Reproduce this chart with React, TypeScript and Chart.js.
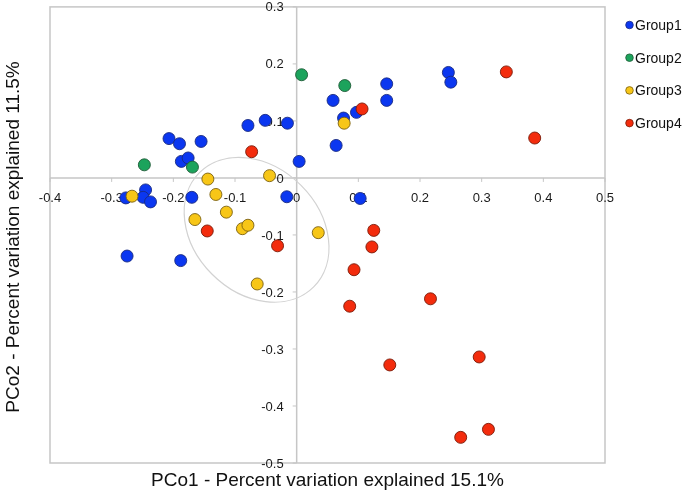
import React, { useEffect, useRef } from "react";
import { Chart, registerables } from "chart.js";

Chart.register(...registerables);

// ---- data ----
const groupNames = ["Group1", "Group2", "Group3", "Group4"];

const group1X = [-0.051, -0.015, -0.079, -0.207, -0.19, -0.155, -0.187, -0.176, 0.004, -0.245, -0.277, -0.249, -0.237, -0.17, -0.016, -0.275, -0.188, 0.059, 0.146, 0.146, 0.246, 0.25, 0.076, 0.097, 0.064, 0.103];
const group1Y = [0.101, 0.096, 0.092, 0.069, 0.06, 0.064, 0.029, 0.035, 0.029, -0.021, -0.035, -0.034, -0.042, -0.034, -0.033, -0.137, -0.145, 0.136, 0.165, 0.136, 0.185, 0.168, 0.105, 0.115, 0.057, -0.036];

const group2X = [0.008, -0.169, -0.247, 0.078];
const group2Y = [0.181, 0.019, 0.023, 0.162];

const group3X = [-0.144, -0.044, -0.267, -0.131, -0.114, -0.165, -0.088, -0.079, 0.035, -0.064, 0.077];
const group3Y = [-0.002, 0.004, -0.032, -0.029, -0.06, -0.073, -0.089, -0.083, -0.096, -0.186, 0.096];

const group4X = [-0.073, -0.145, -0.031, 0.34, 0.386, 0.106, 0.125, 0.122, 0.093, 0.086, 0.217, 0.296, 0.151, 0.311, 0.266];
const group4Y = [0.046, -0.093, -0.119, 0.186, 0.07, 0.121, -0.092, -0.121, -0.161, -0.225, -0.212, -0.314, -0.328, -0.441, -0.455];

const xTickValues = [-0.4, -0.3, -0.2, -0.1, 0, 0.1, 0.2, 0.3, 0.4, 0.5];
const xTickLabels = ["-0.4", "-0.3", "-0.2", "-0.1", "0", "0.1", "0.2", "0.3", "0.4", "0.5"];
const yTickValues = [0.3, 0.2, 0.1, 0, -0.1, -0.2, -0.3, -0.4, -0.5];
const yTickLabels = ["0.3", "0.2", "0.1", "0", "-0.1", "-0.2", "-0.3", "-0.4", "-0.5"];

const xTitle = "PCo1 - Percent variation explained 15.1%";
const yTitle = "PCo2 - Percent variation explained 11.5%";

// ellipse (data units: center, semi-axes in x units)
const ellipseCenter = [-0.065, -0.091];
const ellipseSemiAxes = [0.131, 0.102];

// ---- styles ----
const groupColors = ["#0b37f0", "#1ca35c", "#f7c617", "#f32c0d"];
const groupBorders = ["#1a2a80", "#1d5a35", "#7a6010", "#7a1a08"];
const FONT = "'Liberation Sans', Arial, Helvetica, sans-serif";

const zip = (xs: number[], ys: number[]) => xs.map((v, i) => ({ x: v, y: ys[i] }));

const overlayPlugin = {
  id: "pcoaOverlay",
  beforeDatasetsDraw(chart: any) {
    const { ctx, chartArea: a, scales } = chart;
    const x = scales.x;
    const y = scales.y;
    const x0 = x.getPixelForValue(0);
    const y0 = y.getPixelForValue(0);
    ctx.save();
    ctx.strokeStyle = "#c6c6c6";
    ctx.lineWidth = 1.5;
    ctx.strokeRect(a.left, a.top, a.right - a.left, a.bottom - a.top);
    ctx.beginPath();
    ctx.moveTo(a.left, y0);
    ctx.lineTo(a.right, y0);
    ctx.moveTo(x0, a.top);
    ctx.lineTo(x0, a.bottom);
    ctx.stroke();

    // ticks
    ctx.lineWidth = 1;
    ctx.beginPath();
    xTickValues.forEach((v) => {
      const px = x.getPixelForValue(v);
      ctx.moveTo(px, y0);
      ctx.lineTo(px, y0 + 4);
    });
    yTickValues.forEach((v) => {
      const py = y.getPixelForValue(v);
      ctx.moveTo(x0 - 4, py);
      ctx.lineTo(x0, py);
    });
    ctx.stroke();

    // ellipse
    const cx = x.getPixelForValue(ellipseCenter[0]);
    const cy = y.getPixelForValue(ellipseCenter[1]);
    const rx = x.getPixelForValue(ellipseCenter[0] + ellipseSemiAxes[0]) - cx;
    const ry = x.getPixelForValue(ellipseCenter[0] + ellipseSemiAxes[1]) - cx;
    ctx.strokeStyle = "#d2d2d2";
    ctx.lineWidth = 1.2;
    ctx.beginPath();
    ctx.ellipse(cx, cy, rx, ry, Math.PI / 4, 0, Math.PI * 2);
    ctx.stroke();

    // tick labels
    ctx.fillStyle = "#1a1a1a";
    ctx.font = `13px ${FONT}`;
    ctx.textAlign = "center";
    ctx.textBaseline = "middle";
    xTickValues.forEach((v, i) => {
      ctx.fillText(xTickLabels[i], x.getPixelForValue(v), y0 + 20);
    });
    ctx.textAlign = "right";
    yTickValues.forEach((v, i) => {
      ctx.fillText(yTickLabels[i], x0 - 13, y.getPixelForValue(v) + 1);
    });
    ctx.restore();
  },
  afterDatasetsDraw(chart: any) {
    const { ctx, chartArea: a } = chart;
    ctx.save();
    ctx.fillStyle = "#111";
    ctx.font = `19px ${FONT}`;
    ctx.textAlign = "center";
    ctx.textBaseline = "middle";
    ctx.fillText(xTitle, (a.left + a.right) / 2, 481);
    ctx.translate(14, (a.top + a.bottom) / 2 + 2);
    ctx.rotate(-Math.PI / 2);
    ctx.fillText(yTitle, 0, 0);
    ctx.restore();

    // legend
    ctx.save();
    ctx.font = `14px ${FONT}`;
    ctx.textAlign = "left";
    ctx.textBaseline = "middle";
    groupNames.forEach((name, i) => {
      const ly = 25 + i * 32.7;
      ctx.beginPath();
      ctx.arc(629.5, ly, 3.8, 0, Math.PI * 2);
      ctx.fillStyle = groupColors[i];
      ctx.fill();
      ctx.strokeStyle = groupBorders[i];
      ctx.lineWidth = 0.8;
      ctx.stroke();
      ctx.fillStyle = "#111";
      ctx.fillText(name, 635, ly + 1);
    });
    ctx.restore();
  },
};

export default function App() {
  const canvasRef = useRef<HTMLCanvasElement | null>(null);

  useEffect(() => {
    if (!canvasRef.current) return;
    const xs = [group1X, group2X, group3X, group4X];
    const ys = [group1Y, group2Y, group3Y, group4Y];
    const chart = new Chart(canvasRef.current, {
      type: "scatter",
      data: {
        datasets: groupNames.map((name, i) => ({
          label: name,
          data: zip(xs[i], ys[i]),
          backgroundColor: groupColors[i],
          borderColor: groupBorders[i],
          borderWidth: 0.9,
          pointRadius: 6,
          pointHoverRadius: 6,
          order: 4 - i,
          clip: false as any,
        })),
      },
      options: {
        responsive: false,
        animation: false,
        events: [],
        layout: { padding: { left: 50, top: 5, right: 80, bottom: 29 } },
        plugins: {
          legend: { display: false },
          tooltip: { enabled: false },
          title: { display: false },
        },
        scales: {
          x: { type: "linear", min: -0.4, max: 0.5, display: false },
          y: { type: "linear", min: -0.5, max: 0.3, display: false },
        },
      },
      plugins: [overlayPlugin],
    });
    return () => chart.destroy();
  }, []);

  return (
    <div style={{ position: "absolute", left: 0, top: 0, width: 685, height: 492, background: "#fff" }}>
      <canvas ref={canvasRef} width={685} height={492} style={{ display: "block" }} />
    </div>
  );
}
